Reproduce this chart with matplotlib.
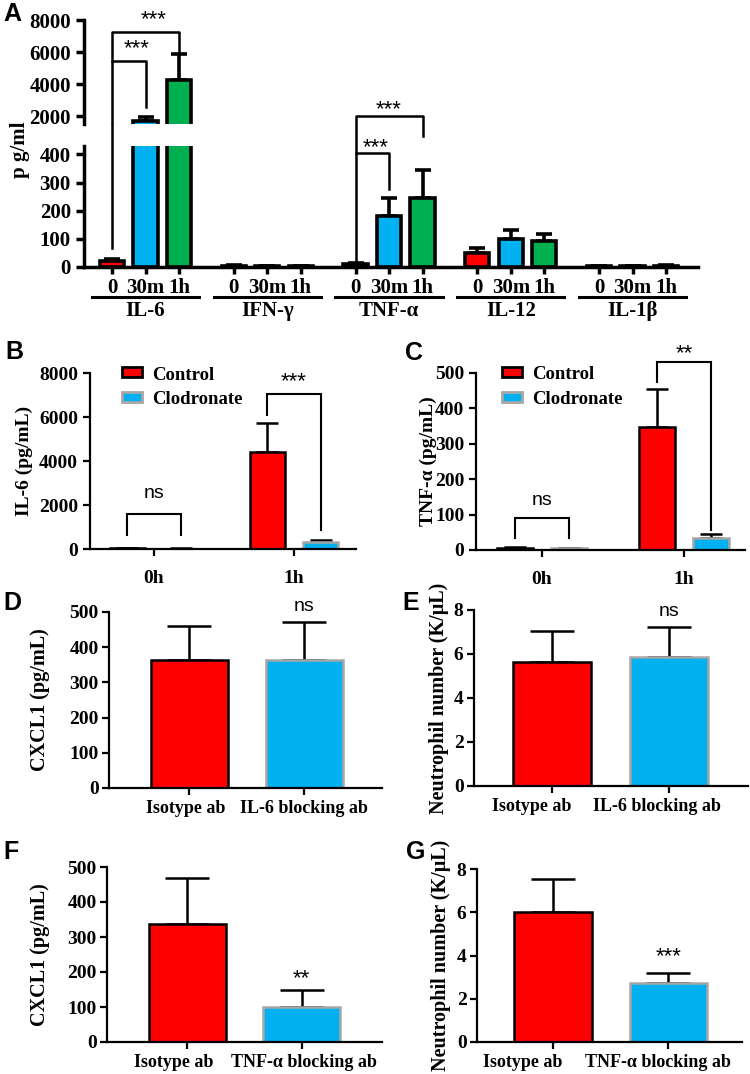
import numpy as np
import matplotlib.pyplot as plt
from matplotlib.patches import Rectangle
import matplotlib.transforms as mtransforms

W, H = 750, 1074
SERIF = "Liberation Serif"
SANS = "Liberation Sans"

RED = "#ff0000"
BLUE = "#00b0f0"
GREEN = "#00b050"
GREY = "#a6a6a6"

# -----------------------------
# data
# -----------------------------
cytokines = ["IL-6", "IFN-γ", "TNF-α", "IL-12", "IL-1β"]
times = ["0", "30m", "1h"]
a_means = [[20, 1700, 4250], [5, 3, 2], [10, 180, 245], [50, 100, 92], [2, 2, 5]]
a_errs = [[8, 250, 1600], [3, 2, 1], [3, 65, 100], [16, 30, 26], [1, 1, 3]]

bc_groups = ["0h", "1h"]
bc_series = ["Control", "Clodronate"]
b_means = [[30, 4400], [20, 300]]
b_errs = [[10, 1330], [8, 90]]
c_means = [[7, 348], [5, 35]]
c_errs = [[2, 108], [2, 10]]

d_labels = ["Isotype ab", "IL-6 blocking ab"]
d_means = [365, 365]
d_errs = [95, 108]
e_means = [5.65, 5.85]
e_errs = [1.4, 1.4]

f_labels = ["Isotype ab", "TNF-α blocking ab"]
f_means = [338, 100]
f_errs = [132, 48]
g_means = [6.0, 2.72]
g_errs = [1.55, 0.46]


def px_axes(l, t, r, b):
    return fig.add_axes([l / W, 1 - b / H, (r - l) / W, (b - t) / H])


def style(ax, lw=1.5, ysize=14, xsize=14):
    for s in ["top", "right"]:
        ax.spines[s].set_visible(False)
    for s in ["left", "bottom"]:
        ax.spines[s].set_linewidth(lw)
    ax.tick_params(width=lw, length=5, direction="out")
    for lab in ax.get_yticklabels():
        lab.set_fontfamily(SERIF)
        lab.set_fontweight("bold")
        lab.set_fontsize(ysize)
    for lab in ax.get_xticklabels():
        lab.set_fontfamily(SERIF)
        lab.set_fontweight("bold")
        lab.set_fontsize(xsize)


def bracket(ax, x1, x2, y1, y2, ytop, text, ty, lw=1.5, tsize=16):
    ax.plot([x1, x1, x2, x2], [y1, ytop, ytop, y2], color="k", lw=lw,
            clip_on=False, solid_joinstyle="miter")
    ax.text((x1 + x2) / 2, ty, text, ha="center", va="center",
            fontsize=tsize, family=SANS)


fig = plt.figure(figsize=(W / 100, H / 100), dpi=100)

# -----------------------------
# panel A (broken axis)
# -----------------------------
ax_lo = px_axes(84, 146, 698, 267)
ax_hi = px_axes(84, 20, 698, 124)
ax_lo.patch.set_visible(False)
ax_hi.patch.set_visible(False)
lo_top, hi_bot = 430, 1500
cols = [RED, BLUE, GREEN]
xs = []
for j, cy in enumerate(cytokines):
    for i in range(3):
        x = j * 3.634 + i
        xs.append(x)
        for ax in (ax_lo, ax_hi):
            ax.bar(x, a_means[j][i], width=0.72, color=cols[i],
                   edgecolor="k", linewidth=2.6, zorder=2)
            ax.errorbar(x, a_means[j][i], yerr=[[0], [a_errs[j][i]]], fmt="none",
                        ecolor="k", elinewidth=2.6, capsize=6, capthick=2.6, zorder=1)
xs = np.array(xs)
for ax in (ax_lo, ax_hi):
    ax.set_xlim(-0.836, 17.49)
ax_lo.set_ylim(0, lo_top)
ax_hi.set_ylim(hi_bot, 8000)
ax_lo.set_yticks([0, 100, 200, 300, 400])
ax_hi.set_yticks([2000, 4000, 6000, 8000])
ax_lo.set_xticks(xs)
ax_lo.set_xticklabels(times * 5)
ax_hi.set_xticks([])
style(ax_lo, 2.5, 15, 15)
style(ax_hi, 2.5, 15, 15)
ax_hi.spines["bottom"].set_visible(False)
ax_lo.spines["left"].set_bounds(0, lo_top)
ax_lo.tick_params(axis="x", length=5, pad=3)
ax_lo.tick_params(axis="y", length=6)
ax_hi.tick_params(axis="y", length=6)

# group underline and names
trans = mtransforms.blended_transform_factory(ax_lo.transData, ax_lo.transAxes)
lo_h = 121.0
for j, cy in enumerate(cytokines):
    g0 = j * 3.634
    ax_lo.plot([g0 - 0.6, g0 + 2.6], [-30 / lo_h] * 2, color="k", lw=2.2,
               transform=trans, clip_on=False)
    ax_lo.text(g0 + 1, -44 / lo_h, cy, transform=trans, ha="center", va="center",
               family=SERIF, fontweight="bold", fontsize=15)

# significance brackets panel A
gap_top = lo_top * (267 - 124) / lo_h
x0, x1, x2 = xs[0], xs[1], xs[2]
ax_lo.plot([x0, x0], [67, gap_top], color="k", lw=1.8, clip_on=False)
ax_hi.plot([x0, x0, x1, x1], [hi_bot, 5440, 5440, 2560], color="k", lw=1.8)
ax_hi.plot([x0, x0, x2, x2], [5440, 7250, 7250, 6000], color="k", lw=1.8,
           clip_on=False)
ax_hi.text(x0 + 0.75, 6200, "***", ha="center", va="center", fontsize=16, family=SANS)
ax_hi.text(x0 + 1.25, 8050, "***", ha="center", va="center", fontsize=16, family=SANS)

t0, t1, t2 = xs[6], xs[7], xs[8]
ax_lo.plot([t0, t0, t1, t1], [18, 404, 404, 277], color="k", lw=1.8, clip_on=False)
ax_lo.plot([t0, t0, t2, t2], [404, 536, 536, 465], color="k", lw=1.8, clip_on=False)
ax_lo.text(t0 + 0.6, 425, "***", ha="center", va="center", fontsize=16, family=SANS)
ax_lo.text(t1, 560, "***", ha="center", va="center", fontsize=16, family=SANS)

fig.text(20 / W, 1 - 150 / H, "p g/ml", rotation=90, ha="center", va="center",
         family=SERIF, fontweight="bold", fontsize=15)


# -----------------------------
# panels B and C
# -----------------------------
def grouped(ax, means, errs, ylim, yticks, ylabel, lab_px, left_px, right_px,
            top_px, bot_px, leg_px):
    off = [-0.19, 0.19]
    fcols = [RED, BLUE]
    ecols = ["k", GREY]
    for s in range(2):
        xpos = np.arange(2) + off[s]
        ax.bar(xpos, means[s], width=0.25, color=fcols[s], edgecolor=ecols[s],
               linewidth=1.8, zorder=2)
        ax.errorbar(xpos, means[s], yerr=[np.zeros(2), errs[s]], fmt="none",
                    ecolor="k", elinewidth=1.8, capsize=8, capthick=1.8, zorder=1)
    ax.set_xticks([0, 1])
    ax.set_xticklabels(bc_groups)
    ax.set_ylim(*ylim)
    ax.set_yticks(yticks)
    style(ax, 1.6, 14, 14)
    ax.tick_params(axis="x", pad=10)
    ax.set_ylabel(ylabel, family=SERIF, fontweight="bold", fontsize=14)
    ax.yaxis.set_label_coords((lab_px - left_px) / (right_px - left_px), 0.5)
    # legend swatches
    aw, ah = right_px - left_px, bot_px - top_px
    ecs = ["k", GREY]
    for k, name in enumerate(bc_series):
        cy = [372, 397][k]
        r = Rectangle(((leg_px - left_px) / aw, (bot_px - cy - 5) / ah), 20 / aw, 10 / ah,
                      transform=ax.transAxes, facecolor=fcols[k], edgecolor=ecs[k],
                      linewidth=2, clip_on=False)
        ax.add_patch(r)
        ax.text((leg_px + 30 - left_px) / aw, (bot_px - cy - 3) / ah, name,
                transform=ax.transAxes, ha="left", va="center", family=SERIF,
                fontweight="bold", fontsize=13.5)


ax_b = px_axes(90, 373, 356, 549)
ax_b.set_xlim(-0.457, 1.443)
grouped(ax_b, b_means, b_errs, (0, 8000), [0, 2000, 4000, 6000, 8000],
        "IL-6 (pg/mL)", 33, 90, 356, 373, 549, 122)
bracket(ax_b, -0.19, 0.19, 636, 636, 1590, "ns", 2500, tsize=14)
bracket(ax_b, 0.81, 1.19, 6090, 860, 7045, "***", 7600)

ax_c = px_axes(476, 373, 745, 550)
ax_c.set_xlim(-0.465, 1.43)
grouped(ax_c, c_means, c_errs, (0, 500), [0, 100, 200, 300, 400, 500],
        "TNF-α (pg/mL)", 437, 476, 745, 373, 550, 502)
bracket(ax_c, -0.19, 0.19, 34, 34, 90, "ns", 140, tsize=14)
bracket(ax_c, 0.81, 1.19, 475, 56, 530, "**", 555)


# -----------------------------
# panels D-G
# -----------------------------
def pair(ax, labels, means, errs, ylim, yticks, ylabel, lab_px, left_px, right_px,
         xlim, shifts):
    xpos = np.arange(2)
    ax.bar(xpos, means, width=0.67, color=[RED, BLUE], edgecolor=["k", GREY],
           linewidth=1.8, zorder=2)
    ax.errorbar(xpos, means, yerr=[np.zeros(2), errs], fmt="none", ecolor="k",
                elinewidth=1.8, capsize=16, capthick=1.8, zorder=1)
    ax.set_xlim(*xlim)
    ax.set_ylim(*ylim)
    ax.set_yticks(yticks)
    ax.set_xticks(xpos)
    ax.set_xticklabels(labels)
    style(ax, 1.6, 14, 13)
    ax.tick_params(axis="y", pad=2.5)
    for lab, dx in zip(ax.get_xticklabels(), shifts):
        lab.set_transform(lab.get_transform() +
                          mtransforms.ScaledTranslation(dx / 100, 0, fig.dpi_scale_trans))
    ax.set_ylabel(ylabel, family=SERIF, fontweight="bold", fontsize=14.5)
    ax.yaxis.set_label_coords((lab_px - left_px) / (right_px - left_px), 0.5)


ax_d = px_axes(109, 612, 382, 788)
pair(ax_d, d_labels, d_means, d_errs, (0, 500), [0, 100, 200, 300, 400, 500],
     "CXCL1 (pg/mL)", 50, 109, 382, (-0.696, 1.678), [-3, 0])
ax_d.text(1, 515, "ns", ha="center", va="center", fontsize=14, family=SANS)

ax_e = px_axes(474, 610, 748, 786)
pair(ax_e, d_labels, e_means, e_errs, (0, 8), [0, 2, 4, 6, 8],
     "Neutrophil number (K/μL)", 449, 474, 748, (-0.667, 1.675), [-20, -12])
ax_e.text(1, 7.95, "ns", ha="center", va="center", fontsize=14, family=SANS)

ax_f = px_axes(107, 867, 382, 1042)
pair(ax_f, f_labels, f_means, f_errs, (0, 500), [0, 100, 200, 300, 400, 500],
     "CXCL1 (pg/mL)", 50, 107, 382, (-0.70, 1.70), [-14, 2])
ax_f.text(1, 182, "**", ha="center", va="center", fontsize=16, family=SANS)

ax_g = px_axes(477, 869, 742, 1042)
pair(ax_g, f_labels, g_means, g_errs, (0, 8), [0, 2, 4, 6, 8],
     "Neutrophil number (K/μL)", 451, 477, 742, (-0.66, 1.64), [-30, -10])
ax_g.text(1, 3.95, "***", ha="center", va="center", fontsize=16, family=SANS)

# panel letters
letters = {"A": (3, 14), "B": (5, 352), "C": (405, 353), "D": (3, 603),
           "E": (402, 603), "F": (3, 852), "G": (406, 852)}
for k, (px, py) in letters.items():
    fig.text(px / W, 1 - py / H, k, ha="left", va="center", family=SANS,
             fontweight="bold", fontsize=18)

fig.savefig("out.png", dpi=100)
